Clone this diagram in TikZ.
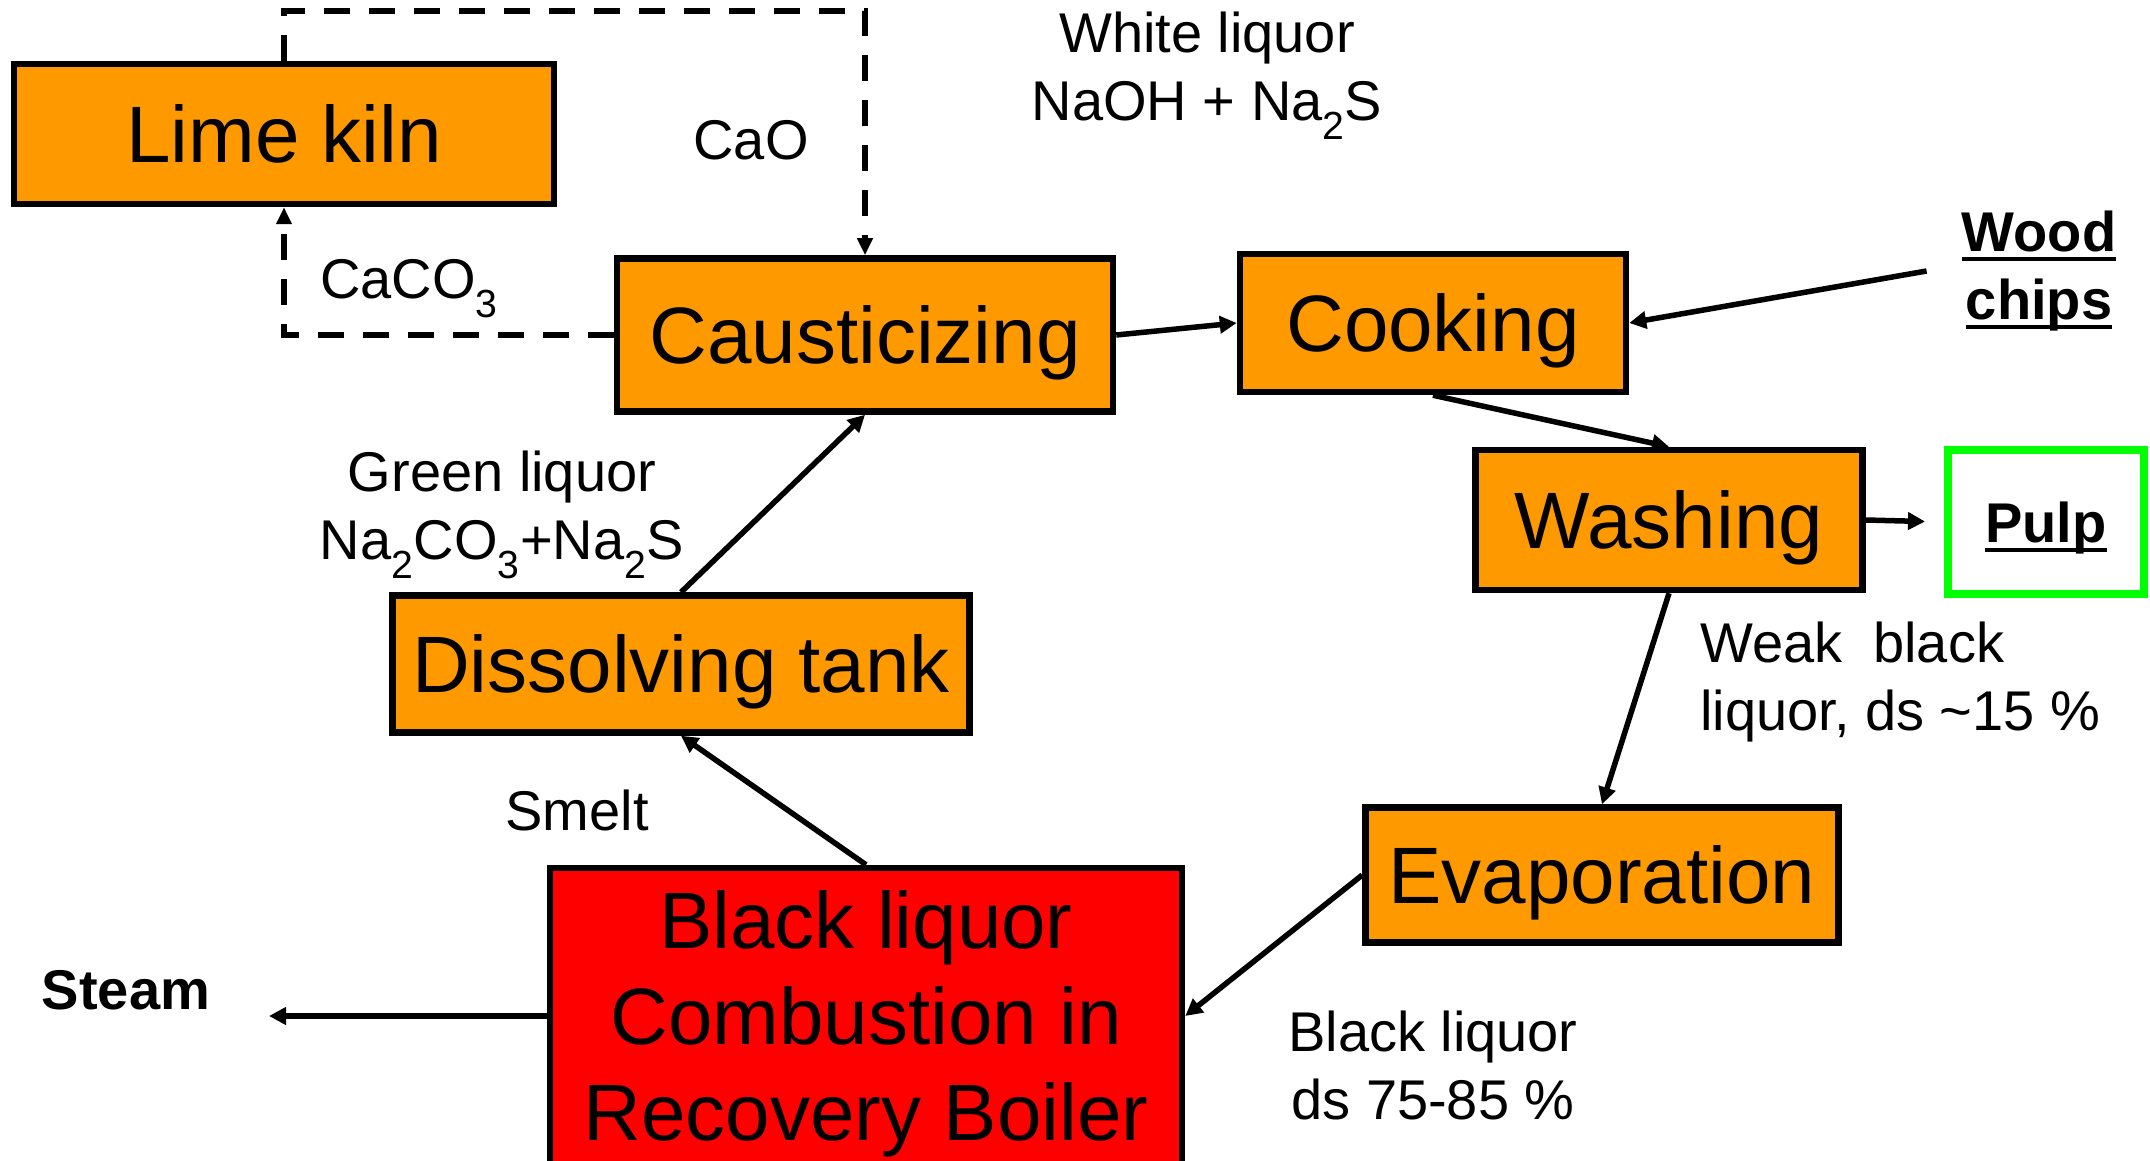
\documentclass[tikz,border=0pt]{standalone}
\usepackage{fontspec}
\setmainfont{Liberation Sans}
\usetikzlibrary{arrows.meta}
\definecolor{kraftorange}{HTML}{FF9900}
\definecolor{pulpgreen}{HTML}{00FF00}
\newcommand{\bigtxt}{\fontsize{80}{96}\selectfont}
\newcommand{\smalltxt}{\fontsize{56}{68}\selectfont}
\newcommand{\heavyul}[1]{\setbox0\hbox{#1}\leavevmode\rlap{\rule[-10pt]{\wd0}{4.5pt}}\box0}
\tikzset{
  unitbox/.style={draw, line width=6.5pt, fill=kraftorange, inner sep=0pt, text depth=0pt, font=\bigtxt},
  flow/.style={line width=5.5pt, -{Triangle[length=17pt,width=17pt]}},
  limeflow/.style={line width=6pt, dash pattern=on 26pt off 19pt, -{Triangle[length=17pt,width=15pt]}},
  lbl/.style={font=\smalltxt, align=center, inner sep=0pt}
}

\begin{document}
\begin{tikzpicture}[x=1pt,y=-1pt]
    \useasboundingbox (0,0) rectangle (2150,1161);
    % units =================================================
    \node[unitbox, minimum width=540pt, minimum height=140pt] (lime)    at (284,134)  {Lime kiln};
    \node[unitbox, minimum width=496pt, minimum height=153pt] (caus)    at (865,335)  {Causticizing};
    \node[unitbox, minimum width=386pt, minimum height=138pt] (cook)    at (1433,323) {Cooking};
    \node[unitbox, minimum width=387pt, minimum height=140pt] (wash)    at (1669,520) {Washing};
    \node[unitbox, minimum width=577pt, minimum height=137pt] (dis)     at (681,664)  {Dissolving tank};
    \node[unitbox, minimum width=473pt, minimum height=135pt] (evap)    at (1602,875) {Evaporation};
    \node[unitbox, fill=red, align=center, minimum width=632pt, minimum height=296pt] (boiler) at (866,1016) {Black liquor\\Combustion in\\Recovery Boiler};
    \node[draw=pulpgreen, line width=8pt, minimum width=196pt, minimum height=144pt, text depth=0pt, font=\smalltxt\bfseries] (pulp) at (2046,522) {\heavyul{Pulp}};
    % streams ===============================================
    \node[lbl] (white)  at (1207,76)  {White liquor\\NaOH + Na\textsubscript{2}S};
    \node[lbl] (cao)    at (751,140)  {CaO};
    \node[lbl] (caco)   at (409,289)  {CaCO\textsubscript{3}};
    \node[lbl, font=\smalltxt\bfseries] (wood) at (2039,271) {\heavyul{Wood}\\\heavyul{chips}};
    \node[lbl] (green)  at (502,515)  {Green liquor\\Na\textsubscript{2}CO\textsubscript{3}+Na\textsubscript{2}S};
    \node[lbl, align=left, anchor=west] (weak) at (1700,682) {Weak\ \ black\\liquor, ds \textasciitilde15 \%};
    \node[lbl] (smelt)  at (577,810)  {Smelt};
    \node[lbl, font=\smalltxt\bfseries] (steam) at (126,990) {Steam};
    \node[lbl] (blq)    at (1433,1065) {Black liquor\\ds 75-85 \%};
    \coordinate (steamtip) at (269,1016);
    % lime cycle ============================================
    \draw[limeflow] (lime.north) -- ++(0,-50) -| (caus.north);
    \draw[limeflow] (caus.west) -| (lime.south);
    % liquor and fibre lines ================================
    \draw[flow] (caus.east) -- (cook.west);
    \draw[flow] ([xshift=-35pt]wood.west) -- (cook.east);
    \draw[flow] (cook.south) -- (wash.north);
    \draw[flow, shorten >=19pt] (wash.east) -- (pulp.west);
    \draw[flow] (wash.south) -- (evap.north);
    \draw[flow] (evap.west) -- (boiler.east);
    \draw[flow] (boiler.north) -- (dis.south);
    \draw[flow] (dis.north) -- (caus.south);
    \draw[flow] (boiler.west) -- (steamtip);
\end{tikzpicture}
\end{document}
